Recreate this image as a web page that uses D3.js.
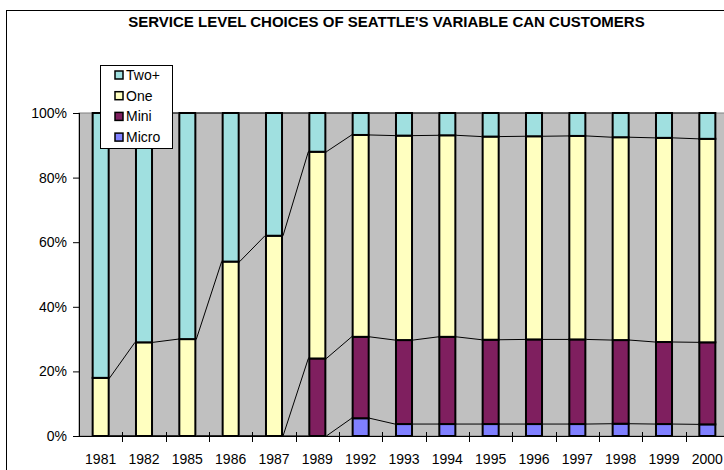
<!DOCTYPE html>
<html>
<head>
<meta charset="utf-8">
<script src="https://cdn.jsdelivr.net/npm/d3@7"></script>
<style>
  body { margin: 0; background: #fff; }
  svg { display: block; font-family: "Liberation Sans", Arial, sans-serif; }
</style>
</head>
<body>
<div id="chart"></div>
<script>
var years = ['1981', '1982', '1985', '1986', '1987', '1989', '1992', '1993', '1994', '1995', '1996', '1997', '1998', '1999', '2000'];
var micro = [0, 0, 0, 0, 0, 0, 5.5, 3.7, 3.7, 3.7, 3.7, 3.7, 3.8, 3.7, 3.6];
var mini = [0, 0, 0, 0, 0, 24, 25.2, 26.0, 27.0, 26.1, 26.2, 26.2, 25.9, 25.4, 25.4];
var one = [18, 29, 30, 54, 62, 64, 62.5, 63.3, 62.4, 62.9, 62.9, 63.0, 62.8, 63.2, 63.0];
var twoPlus = [82, 71, 70, 46, 38, 12, 6.8, 7.0, 6.9, 7.3, 7.2, 7.1, 7.5, 7.7, 8.0];
var yTicks = [0, 20, 40, 60, 80, 100];

var keys = ['Micro', 'Mini', 'One', 'Two+'];
var colors = { 'Micro': '#8080ff', 'Mini': '#7f1f5f', 'One': '#ffffc0', 'Two+': '#a0e0e0' };

var rows = years.map(function (yr, i) {
    return { year: yr, 'Micro': micro[i], 'Mini': mini[i], 'One': one[i], 'Two+': twoPlus[i] };
});

var width = 724, height = 470;
var plot = { left: 79, right: 729, top: 113, bottom: 436 };

var svg = d3.select('#chart')
    .append('svg')
    .attr('width', width)
    .attr('height', height);

// outer chart frame (runs off the right and bottom edges)
svg.append('rect')
    .attr('x', 6.5).attr('y', 10.5)
    .attr('width', 760).attr('height', 480)
    .attr('fill', '#fff')
    .attr('stroke', '#000');

svg.append('text')
    .attr('x', 386.5).attr('y', 27)
    .attr('text-anchor', 'middle')
    .style('font-size', '15px')
    .style('font-weight', 'bold')
    .text("SERVICE LEVEL CHOICES OF SEATTLE'S VARIABLE CAN CUSTOMERS");

var x = d3.scaleBand()
    .domain(years)
    .range([plot.left, plot.right])
    .paddingInner(0.63)
    .paddingOuter(0.315);

var y = d3.scaleLinear()
    .domain([0, 100])
    .range([plot.bottom, plot.top]);

// plot area
svg.append('rect')
    .attr('x', plot.left).attr('y', plot.top)
    .attr('width', plot.right - plot.left)
    .attr('height', plot.bottom - plot.top)
    .attr('fill', '#c0c0c0')
    .attr('stroke', '#808080');

var stacked = d3.stack().keys(keys)(rows);

// series lines between bars
var bw = x.bandwidth();
stacked.forEach(function (s) {
    for (var i = 0; i < s.length - 1; i++) {
        svg.append('line')
            .attr('x1', x(years[i]) + bw + 1)
            .attr('y1', y(s[i][1]))
            .attr('x2', x(years[i + 1]) - 1)
            .attr('y2', y(s[i + 1][1]))
            .attr('stroke', '#000')
            .attr('stroke-width', 1);
    }
});

// bars
svg.selectAll('g.series')
    .data(stacked)
    .enter()
    .append('g')
    .attr('class', 'series')
    .attr('fill', function (d) { return colors[d.key]; })
    .selectAll('rect')
    .data(function (d) { return d.filter(function (p) { return p[1] - p[0] > 0; }); })
    .enter()
    .append('rect')
    .attr('x', function (d) { return x(d.data.year); })
    .attr('y', function (d) { return y(d[1]); })
    .attr('width', bw)
    .attr('height', function (d) { return y(d[0]) - y(d[1]); })
    .attr('stroke', '#000')
    .attr('stroke-width', 2);

// y axis
var yAxis = svg.append('g')
    .attr('transform', 'translate(' + plot.left + ',0)')
    .call(d3.axisLeft(y).tickValues(yTicks).tickSize(6).tickPadding(6)
        .tickFormat(function (d) { return d + '%'; }));
yAxis.selectAll('text').style('font-size', '14px').attr('fill', '#000').style('font-family', '"Liberation Sans", Arial, sans-serif');
yAxis.selectAll('line, path').attr('stroke', '#000');
yAxis.select('.domain').attr('d', 'M0.5,' + plot.top + 'V' + (plot.bottom + 0.5));

// x axis
var xAxis = svg.append('g')
    .attr('transform', 'translate(0,' + plot.bottom + ')');
xAxis.append('line')
    .attr('x1', plot.left).attr('x2', plot.right)
    .attr('y1', 0.5).attr('y2', 0.5)
    .attr('stroke', '#000');
xAxis.selectAll('line.tick')
    .data(years.slice(1))
    .enter()
    .append('line')
    .attr('class', 'tick')
    .attr('x1', function (d) { return Math.round(x(d) - x.step() * x.paddingInner() / 2) + 0.5; })
    .attr('x2', function (d) { return Math.round(x(d) - x.step() * x.paddingInner() / 2) + 0.5; })
    .attr('y1', -4).attr('y2', 6)
    .attr('stroke', '#000');
xAxis.selectAll('text')
    .data(years)
    .enter()
    .append('text')
    .attr('x', function (d) { return x(d) + bw / 2; })
    .attr('y', 28)
    .attr('text-anchor', 'middle')
    .style('font-size', '14px')
    .text(function (d) { return d; });

// legend
var legendKeys = ['Two+', 'One', 'Mini', 'Micro'];
var legend = svg.append('g');
legend.append('rect')
    .attr('x', 100.5).attr('y', 65.5)
    .attr('width', 72).attr('height', 83)
    .attr('fill', '#fff')
    .attr('stroke', '#000');
legendKeys.forEach(function (k, i) {
    var cy = 75 + i * 20.7;
    legend.append('rect')
        .attr('x', 115).attr('y', cy - 4)
        .attr('width', 8).attr('height', 8)
        .attr('fill', colors[k])
        .attr('stroke', '#000')
        .attr('stroke-width', 1.5);
    legend.append('text')
        .attr('x', 126).attr('y', cy + 5)
        .style('font-size', '14px')
        .text(k);
});
</script>
</body>
</html>
